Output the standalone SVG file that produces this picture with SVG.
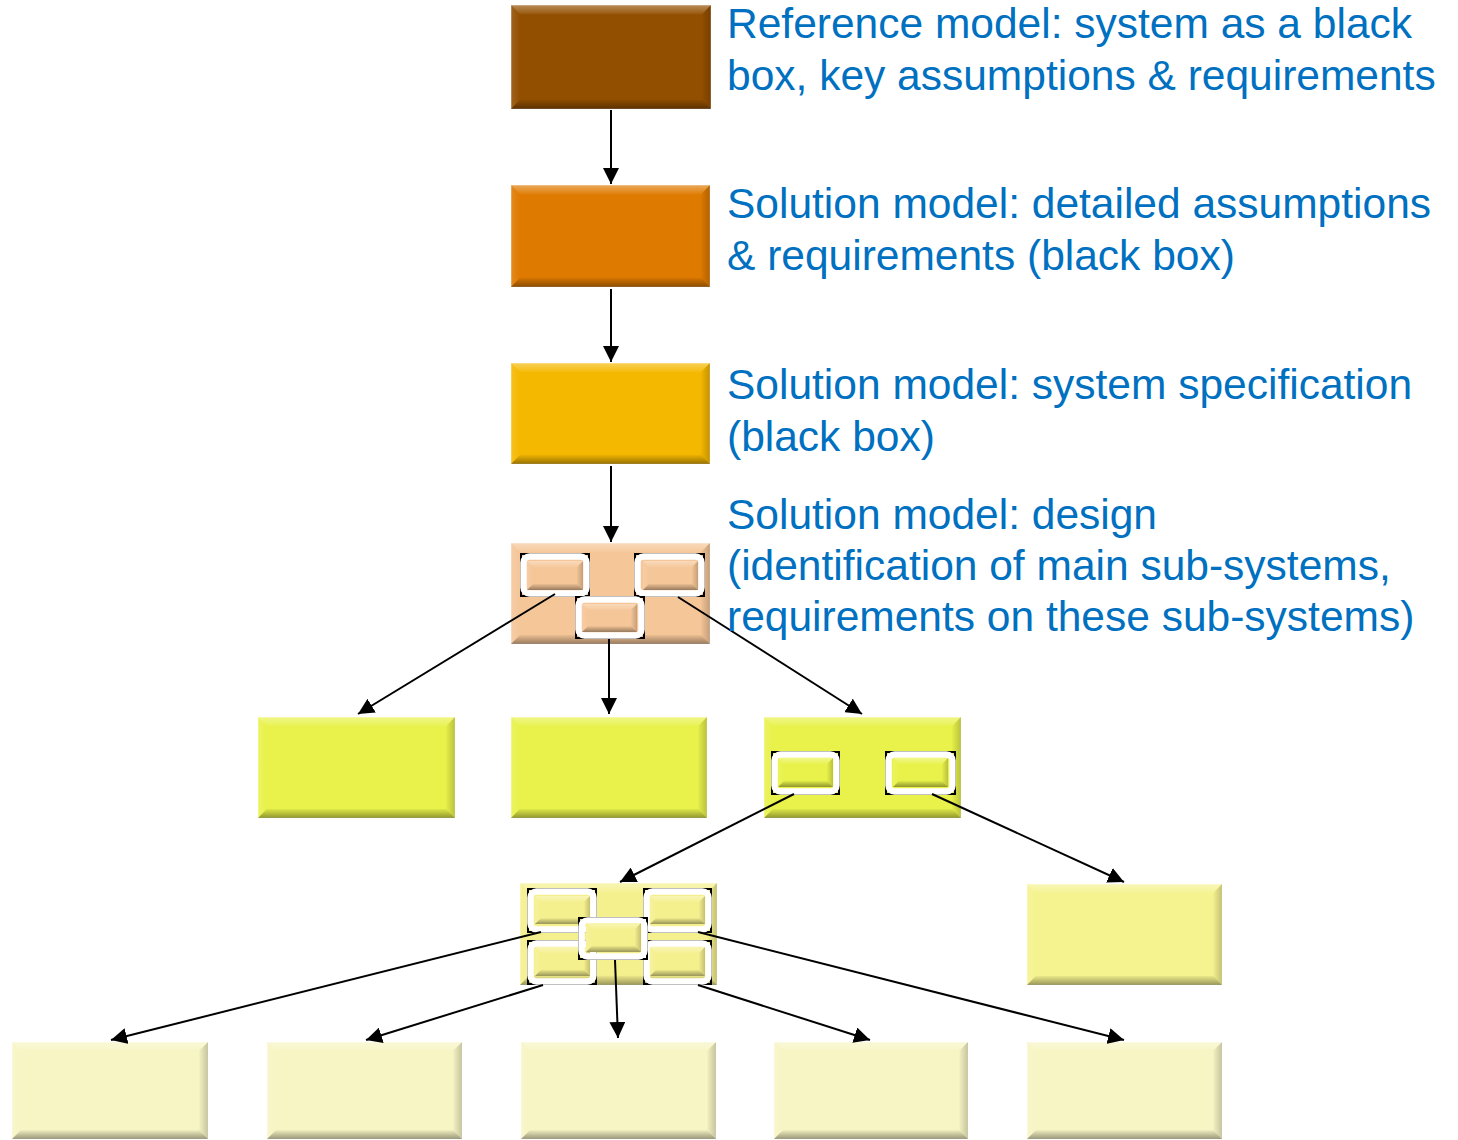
<svg xmlns="http://www.w3.org/2000/svg" xmlns:xlink="http://www.w3.org/1999/xlink" width="1458" height="1140" viewBox="0 0 1458 1140">
  <style>
    .lbl { font-family: "Liberation Sans", Arial, sans-serif; font-size: 42.5px; fill: #0070c0; }
    .edge { stroke: #000; stroke-width: 2; fill: none; marker-end: url(#arrow); }
    .box { stroke: #ffffff; stroke-opacity: 0.45; stroke-width: 1; }
    .frame-k { fill: none; stroke: #000; stroke-width: 2; }
    .frame-w { fill: none; stroke: #fff; stroke-width: 6.5; }
    .c1 { fill: #934f00; }
    .c2 { fill: #df7a00; }
    .c3 { fill: #f5b800; }
    .c4 { fill: #f5c698; }
    .c5 { fill: #e8f24a; }
    .c6 { fill: #f5f08e; }
    .c7 { fill: #f5f38f; }
    .c8 { fill: #f7f5c4; }
  </style>
  <defs>
    <marker id="arrow" markerUnits="userSpaceOnUse" markerWidth="16" markerHeight="16" viewBox="0 0 16 16" refX="16" refY="8" orient="auto">
      <path d="M0,0 L16,8 L0,16 z" fill="#000"/>
    </marker>
    <!-- soft bevel shading -->
    <linearGradient id="gTop" x1="0" y1="0" x2="0" y2="1">
      <stop offset="0" stop-color="#fff" stop-opacity="0.35"/>
      <stop offset="1" stop-color="#fff" stop-opacity="0.05"/>
    </linearGradient>
    <linearGradient id="gLeft" x1="0" y1="0" x2="1" y2="0">
      <stop offset="0" stop-color="#fff" stop-opacity="0.12"/>
      <stop offset="1" stop-color="#fff" stop-opacity="0"/>
    </linearGradient>
    <linearGradient id="gRight" x1="0" y1="0" x2="1" y2="0">
      <stop offset="0" stop-color="#000" stop-opacity="0.02"/>
      <stop offset="1" stop-color="#000" stop-opacity="0.2"/>
    </linearGradient>
    <linearGradient id="gBottom" x1="0" y1="0" x2="0" y2="1">
      <stop offset="0" stop-color="#000" stop-opacity="0.04"/>
      <stop offset="1" stop-color="#000" stop-opacity="0.38"/>
    </linearGradient>
    <!-- bevel overlay for large boxes -->
    <symbol id="bv" viewBox="0 0 200 100" preserveAspectRatio="none">
      <polygon points="0,0 200,0 191,9 9,9" fill="url(#gTop)"/>
      <polygon points="0,0 9,9 9,91 0,100" fill="url(#gLeft)"/>
      <polygon points="200,0 200,100 191,91 191,9" fill="url(#gRight)"/>
      <polygon points="0,100 9,91 191,91 200,100" fill="url(#gBottom)"/>
    </symbol>
    <!-- bevel overlay for small boxes -->
    <symbol id="bvs" viewBox="0 0 56 29" preserveAspectRatio="none">
      <polygon points="0,0 56,0 50,6 6,6" fill="url(#gTop)"/>
      <polygon points="0,0 6,6 6,23 0,29" fill="url(#gLeft)"/>
      <polygon points="56,0 56,29 50,23 50,6" fill="url(#gRight)"/>
      <polygon points="0,29 6,23 50,23 56,29" fill="url(#gBottom)"/>
    </symbol>
  </defs>

  <rect width="1458" height="1140" fill="#fff"/>

  <!-- stage 1 -->
  <g id="reference-model">
    <rect class="box c1" x="511" y="5" width="200" height="104"/>
    <use href="#bv" x="511" y="5" width="200" height="104"/>
  </g>
  <!-- stage 2 -->
  <g id="solution-requirements">
    <rect class="box c2" x="511" y="185" width="199" height="102"/>
    <use href="#bv" x="511" y="185" width="199" height="102"/>
  </g>
  <!-- stage 3 -->
  <g id="solution-specification">
    <rect class="box c3" x="511" y="363" width="199" height="101"/>
    <use href="#bv" x="511" y="363" width="199" height="101"/>
  </g>
  <!-- stage 4: design with three sub-systems -->
  <g id="solution-design">
    <rect class="box c4" x="511" y="543" width="199" height="101"/>
    <use href="#bv" x="511" y="543" width="199" height="101"/>
    <g id="design-sub-1">
      <rect class="frame-k" x="521" y="554" width="68" height="42"/>
      <rect class="frame-w" x="523.5" y="556.5" width="63" height="37" rx="6"/>
      <rect class="c4" x="527" y="561" width="56" height="29"/>
      <use href="#bvs" x="527" y="561" width="56" height="29"/>
    </g>
    <g id="design-sub-2">
      <rect class="frame-k" x="635" y="554" width="69" height="42"/>
      <rect class="frame-w" x="637.5" y="556.5" width="64" height="37" rx="6"/>
      <rect class="c4" x="643" y="561" width="55" height="29"/>
      <use href="#bvs" x="643" y="561" width="55" height="29"/>
    </g>
    <g id="design-sub-3">
      <rect class="frame-k" x="576" y="597" width="68" height="41"/>
      <rect class="frame-w" x="578.5" y="599.5" width="63" height="36" rx="6"/>
      <rect class="c4" x="582" y="604" width="55" height="28"/>
      <use href="#bvs" x="582" y="604" width="55" height="28"/>
    </g>
  </g>

  <!-- level 2 sub-systems -->
  <g id="sub-a">
    <rect class="box c5" x="258" y="717" width="197" height="101"/>
    <use href="#bv" x="258" y="717" width="197" height="101"/>
  </g>
  <g id="sub-b">
    <rect class="box c5" x="511" y="717" width="196" height="101"/>
    <use href="#bv" x="511" y="717" width="196" height="101"/>
  </g>
  <g id="sub-c">
    <rect class="box c5" x="764" y="717" width="197" height="101"/>
    <use href="#bv" x="764" y="717" width="197" height="101"/>
    <g id="sub-c-1">
      <rect class="frame-k" x="772" y="752" width="67" height="42"/>
      <rect class="frame-w" x="774.5" y="754.5" width="62" height="37" rx="6"/>
      <rect class="c5" x="778" y="758" width="55" height="29"/>
      <use href="#bvs" x="778" y="758" width="55" height="29"/>
    </g>
    <g id="sub-c-2">
      <rect class="frame-k" x="886" y="752" width="69" height="42"/>
      <rect class="frame-w" x="888.5" y="754.5" width="64" height="37" rx="6"/>
      <rect class="c5" x="893" y="758" width="55" height="29"/>
      <use href="#bvs" x="893" y="758" width="55" height="29"/>
    </g>
  </g>

  <!-- level 3 -->
  <g id="sub-d">
    <rect class="box c6" x="520" y="883" width="197" height="102"/>
    <use href="#bv" x="520" y="883" width="197" height="102"/>
    <g id="sub-d-tl">
      <rect class="frame-k" x="528" y="889" width="68" height="43"/>
      <rect class="frame-w" x="530.5" y="891.5" width="63" height="38" rx="6"/>
      <rect class="c6" x="535" y="896" width="55" height="28"/>
      <use href="#bvs" x="535" y="896" width="55" height="28"/>
    </g>
    <g id="sub-d-tr">
      <rect class="frame-k" x="644" y="889" width="67" height="43"/>
      <rect class="frame-w" x="646.5" y="891.5" width="62" height="38" rx="6"/>
      <rect class="c6" x="650" y="896" width="55" height="28"/>
      <use href="#bvs" x="650" y="896" width="55" height="28"/>
    </g>
    <g id="sub-d-bl">
      <rect class="frame-k" x="528" y="941" width="68" height="43"/>
      <rect class="frame-w" x="530.5" y="943.5" width="63" height="38" rx="6"/>
      <rect class="c6" x="535" y="947" width="55" height="29"/>
      <use href="#bvs" x="535" y="947" width="55" height="29"/>
    </g>
    <g id="sub-d-br">
      <rect class="frame-k" x="644" y="941" width="67" height="43"/>
      <rect class="frame-w" x="646.5" y="943.5" width="62" height="38" rx="6"/>
      <rect class="c6" x="650" y="947" width="55" height="29"/>
      <use href="#bvs" x="650" y="947" width="55" height="29"/>
    </g>
    <g id="sub-d-m">
      <rect class="frame-k" x="579" y="918" width="68" height="41"/>
      <rect class="frame-w" x="581.5" y="920.5" width="63" height="36" rx="6"/>
      <rect class="c6" x="586" y="923" width="55" height="29"/>
      <use href="#bvs" x="586" y="923" width="55" height="29"/>
    </g>
  </g>
  <g id="sub-e">
    <rect class="box c7" x="1027" y="884" width="195" height="101"/>
    <use href="#bv" x="1027" y="884" width="195" height="101"/>
  </g>

  <!-- level 4 -->
  <g id="leaf-1">
    <rect class="box c8" x="12" y="1042" width="196" height="97"/>
    <use href="#bv" x="12" y="1042" width="196" height="97"/>
  </g>
  <g id="leaf-2">
    <rect class="box c8" x="267" y="1042" width="195" height="97"/>
    <use href="#bv" x="267" y="1042" width="195" height="97"/>
  </g>
  <g id="leaf-3">
    <rect class="box c8" x="521" y="1042" width="195" height="97"/>
    <use href="#bv" x="521" y="1042" width="195" height="97"/>
  </g>
  <g id="leaf-4">
    <rect class="box c8" x="774" y="1042" width="194" height="97"/>
    <use href="#bv" x="774" y="1042" width="194" height="97"/>
  </g>
  <g id="leaf-5">
    <rect class="box c8" x="1027" y="1042" width="195" height="97"/>
    <use href="#bv" x="1027" y="1042" width="195" height="97"/>
  </g>

  <!-- connectors -->
  <g id="connectors">
    <line class="edge" x1="611" y1="110" x2="611" y2="184"/>
    <line class="edge" x1="611" y1="289" x2="611" y2="362"/>
    <line class="edge" x1="611" y1="466" x2="611" y2="542"/>
    <line class="edge" x1="555" y1="594" x2="358" y2="714"/>
    <line class="edge" x1="609" y1="639" x2="609" y2="714"/>
    <line class="edge" x1="678" y1="597" x2="862" y2="714"/>
    <line class="edge" x1="794" y1="794" x2="620" y2="882"/>
    <line class="edge" x1="932" y1="794" x2="1124" y2="882"/>
    <line class="edge" x1="541" y1="932" x2="111" y2="1040"/>
    <line class="edge" x1="543" y1="985" x2="366" y2="1040"/>
    <line class="edge" x1="615" y1="960" x2="618" y2="1038"/>
    <line class="edge" x1="698" y1="985" x2="870" y2="1040"/>
    <line class="edge" x1="698" y1="932" x2="1124" y2="1040"/>
  </g>

  <!-- stage descriptions -->
  <g id="labels">
    <text class="lbl" x="727" y="38">Reference model: system as a black</text>
    <text class="lbl" x="727" y="90">box, key assumptions &amp; requirements</text>
    <text class="lbl" x="727" y="218">Solution model: detailed assumptions</text>
    <text class="lbl" x="727" y="270">&amp; requirements (black box)</text>
    <text class="lbl" x="727" y="399">Solution model: system specification</text>
    <text class="lbl" x="727" y="451">(black box)</text>
    <text class="lbl" x="727" y="529">Solution model: design</text>
    <text class="lbl" x="727" y="580">(identification of main sub-systems,</text>
    <text class="lbl" x="727" y="631">requirements on these sub-systems)</text>
  </g>
</svg>
